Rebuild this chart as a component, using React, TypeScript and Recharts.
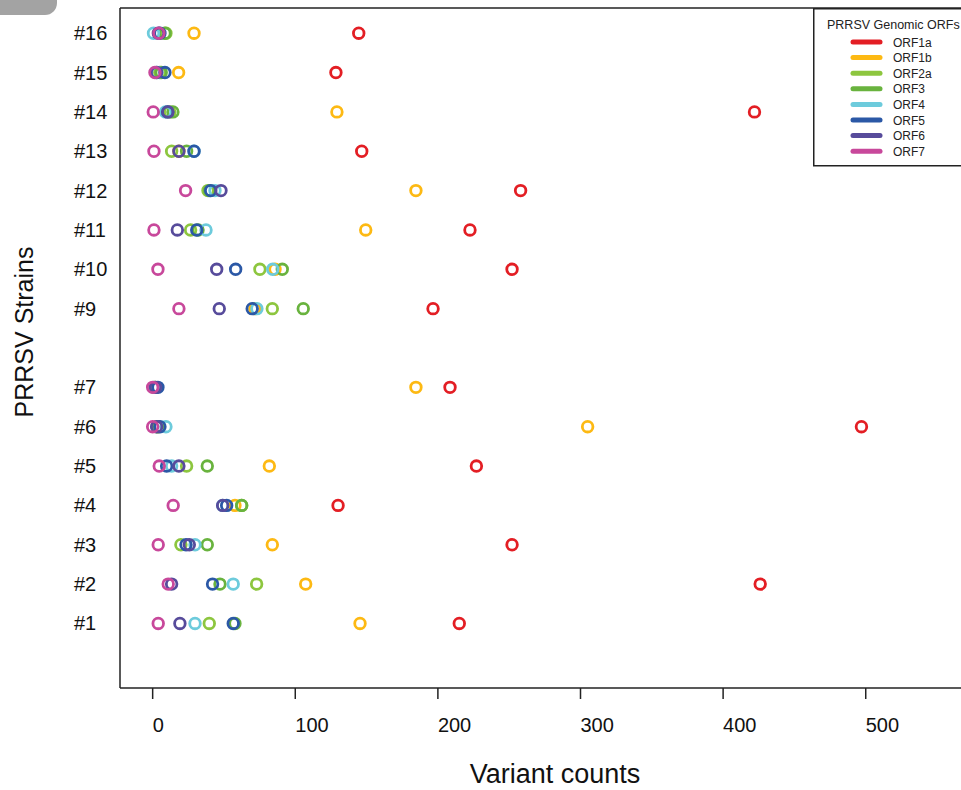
import React from 'react';
import {
  ScatterChart,
  Scatter,
  XAxis,
  YAxis,
  ReferenceLine,
} from 'recharts';

// strain numbers on the y axis (#8 is not in the study)
const strains = [1, 2, 3, 4, 5, 6, 7, 9, 10, 11, 12, 13, 14, 15, 16];

// variant counts per ORF, same order as strains
const orf1a = [215, 426, 252, 130, 227, 497, 208.5, 196.6, 252, 222.5, 258, 146.6, 422, 128.5, 144.5];
const orf1b = [145.4, 107.3, 83.9, 57.7, 81.8, 305, 184.6, 71.7, 85.8, 149.4, 184.6, 18.4, 129.2, 18.2, 29];
const orf2a = [39.7, 72.9, 19.8, 62.4, 23.8, 4, 1, 83.9, 75.2, 26.6, 38.8, 13.3, 12, 5, 9.3];
const orf3 = [57.7, 47.2, 38.3, 62.4, 38.3, 3, 2, 105.6, 90.9, 31.8, 40, 23.8, 14.2, 6, 8.6];
const orf4 = [29.7, 56.5, 29.7, 49.1, 13.3, 9.3, 1, 73.1, 84.2, 37.4, 43.7, 29, 9, 3, 0.6];
const orf5 = [56.5, 42, 23.4, 51.9, 9.8, 5.1, 3.7, 69.8, 58.2, 30.9, 40.7, 29, 10.5, 8.6, 5.1];
const orf6 = [19.1, 13.3, 25.7, 49.1, 18.4, 2.8, 2, 46.7, 44.9, 17.3, 47.9, 18.4, 10.7, 2.8, 4];
const orf7 = [3.9, 10.9, 3.9, 14.4, 4.6, 0, 0, 18.4, 3.7, 0.9, 23.1, 0.9, 0.4, 1.6, 4.4];

const xTicks = [0, 100, 200, 300, 400, 500];

const series = [
  { name: 'ORF1a', color: '#E31E24', values: orf1a },
  { name: 'ORF1b', color: '#FDB913', values: orf1b },
  { name: 'ORF2a', color: '#8DC63F', values: orf2a },
  { name: 'ORF3', color: '#69B33E', values: orf3 },
  { name: 'ORF4', color: '#6DCBDC', values: orf4 },
  { name: 'ORF5', color: '#2B58A6', values: orf5 },
  { name: 'ORF6', color: '#574B9B', values: orf6 },
  { name: 'ORF7', color: '#C8489B', values: orf7 },
];

const FONT = '"Liberation Sans", Arial, Helvetica, sans-serif';

const ring = (color: string) => (props: any) => (
  <circle cx={props.cx} cy={props.cy} r={5.3} fill="none" stroke={color} strokeWidth={2.8} />
);

const XTick = (props: any) => (
  <text x={props.x} y={732} textAnchor="start" fontSize={20} fontFamily={FONT} fill="#111">
    {props.payload.value}
  </text>
);

const YTick = (props: any) => (
  <text x={74} y={props.y + 7} textAnchor="start" fontSize={20} fontFamily={FONT} fill="#111">
    {'#' + props.payload.value}
  </text>
);

const Legend = () => (
  <svg
    width={148}
    height={160}
    style={{ position: 'absolute', left: 813, top: 8, overflow: 'visible' }}
  >
    <rect x={0.75} y={0.75} width={200} height={157} fill="#fff" stroke="#222" strokeWidth={1.5} />
    <text x={14} y={20.5} fontSize={12.5} fontFamily={FONT} fill="#222">
      PRRSV Genomic ORFs
    </text>
    {series.map((s, i) => (
      <g key={s.name}>
        <line
          x1={40}
          x2={67}
          y1={34 + i * 15.6}
          y2={34 + i * 15.6}
          stroke={s.color}
          strokeWidth={5}
          strokeLinecap="round"
        />
        <text x={80} y={38.5 + i * 15.6} fontSize={12} fontFamily={FONT} fill="#222">
          {s.name}
        </text>
      </g>
    ))}
  </svg>
);

export default function App() {
  return (
    <div
      style={{
        position: 'absolute',
        left: 0,
        top: 0,
        width: 961,
        height: 790,
        overflow: 'hidden',
        background: '#fff',
      }}
    >
      <div
        style={{
          position: 'absolute',
          left: 0,
          top: 0,
          width: 57,
          height: 15,
          background: '#a3a3a3',
          borderBottomRightRadius: 12,
        }}
      />
      <ScatterChart
        width={1100}
        height={790}
        margin={{ top: 8, right: 56, bottom: 0, left: 0 }}
      >
        <XAxis
          type="number"
          dataKey="x"
          domain={[-22.9, 625]}
          ticks={xTicks}
          allowDataOverflow
          height={102}
          tickSize={11}
          tick={<XTick />}
          axisLine={{ stroke: '#222', strokeWidth: 1.5 }}
          tickLine={{ stroke: '#222', strokeWidth: 1.5 }}
          label={{
            content: () => (
              <text x={555} y={783} textAnchor="middle" fontSize={27} fontFamily={FONT} fill="#111">
                Variant counts
              </text>
            ),
          }}
        />
        <YAxis
          type="number"
          dataKey="y"
          domain={[-0.64, 16.64]}
          ticks={strains}
          allowDataOverflow
          width={120}
          tickLine={false}
          tick={<YTick />}
          axisLine={{ stroke: '#222', strokeWidth: 1.5 }}
          label={{
            content: () => (
              <text
                x={33}
                y={332}
                textAnchor="middle"
                fontSize={25}
                fontFamily={FONT}
                fill="#111"
                transform="rotate(-90 33 332)"
              >
                PRRSV Strains
              </text>
            ),
          }}
        />
        <ReferenceLine y={16.64} stroke="#222" strokeWidth={1.5} />
        {series.map((s) => (
          <Scatter
            key={s.name}
            name={s.name}
            data={strains.map((st, i) => ({ x: s.values[i], y: st }))}
            shape={ring(s.color)}
            isAnimationActive={false}
          />
        ))}
      </ScatterChart>
      <Legend />
    </div>
  );
}
